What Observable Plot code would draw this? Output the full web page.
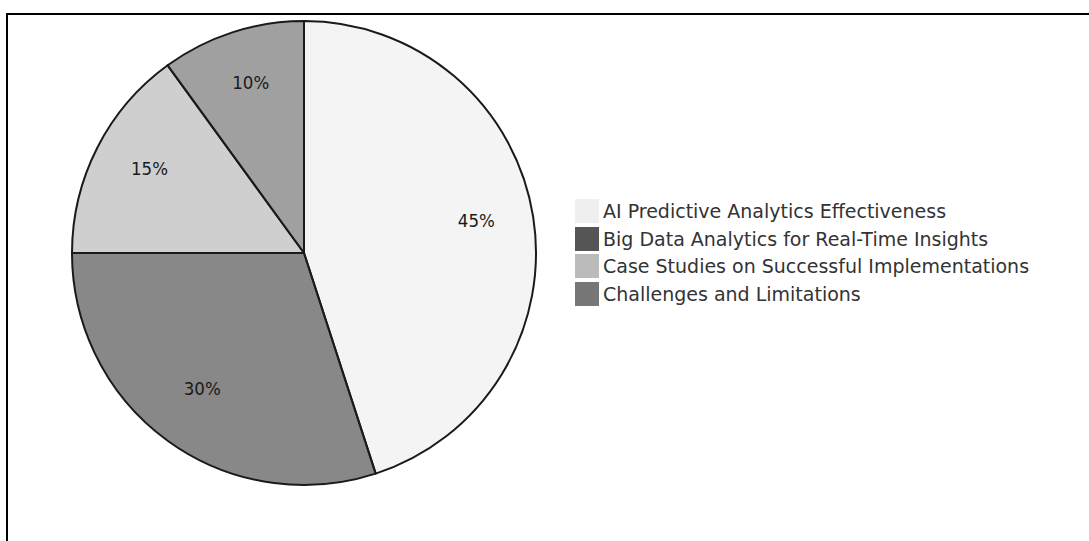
<!DOCTYPE html>
<html><head><meta charset="utf-8">
<script src="https://cdn.jsdelivr.net/npm/d3@7"></script>
<script src="https://cdn.jsdelivr.net/npm/@observablehq/plot@0.6"></script>
<style>
body{margin:0;background:#fff;}
#wrap{position:relative;width:1089px;height:541px;overflow:hidden;background:#fff;}
#frame{position:absolute;left:6px;top:13px;width:1200px;height:700px;border:2px solid #000;pointer-events:none;}
#chart{position:absolute;left:0;top:0;}
#legend{position:absolute;left:575px;top:197px;font-family:"DejaVu Sans",sans-serif;font-size:19px;color:#333;}
.row{display:flex;align-items:center;height:27.7px;}
.sw{width:24px;height:24px;margin-right:4px;flex:none;}
</style>
</head><body>
<div id="wrap"><div id="frame"></div><div id="chart"></div><div id="legend"></div></div>
<script>
const categories = [
  "AI Predictive Analytics Effectiveness",
  "Big Data Analytics for Real-Time Insights",
  "Case Studies on Successful Implementations",
  "Challenges and Limitations"
];
const values = [45, 30, 15, 10];
const labels = ["45%", "30%", "15%", "10%"];
const colors = ["#efefef", "#555555", "#bbbbbb", "#777777"];

const data = categories.map((c, i) => ({category: c, value: values[i], label: labels[i]}));
const color = Plot.scale({color: {type: "ordinal", domain: categories, range: colors}});
const arcs = d3.pie().sort(null).value(d => d.value)(data);
const labelFrac = 0.75;
const labelData = arcs.map(a => {
  const m = (a.startAngle + a.endAngle) / 2;
  return {label: a.data.label, x: labelFrac * Math.sin(m), y: labelFrac * Math.cos(m)};
});

const pieMark = (index, scales) => {
  const cx = scales.x(0), cy = scales.y(0), r = scales.x(1) - scales.x(0);
  const arc = d3.arc().innerRadius(0).outerRadius(r);
  const g = d3.create("svg:g").attr("transform", `translate(${cx},${cy})`);
  g.selectAll("path").data(arcs).join("path")
    .attr("d", arc)
    .attr("fill", d => color.apply(d.data.category))
    .attr("fill-opacity", 0.7)
    .attr("stroke", "#1a1a1a")
    .attr("stroke-width", 2)
    .attr("stroke-linejoin", "round");
  return g.node();
};

const chart = Plot.plot({
  width: 1089, height: 541,
  marginLeft: 72, marginRight: 553, marginTop: 21, marginBottom: 56,
  x: {domain: [-1, 1], axis: null},
  y: {domain: [-1, 1], axis: null},
  style: {background: "transparent", overflow: "visible"},
  marks: [
    pieMark,
    Plot.text(labelData, {x: "x", y: "y", text: "label", fontSize: 18.5, fill: "#1a1a1a", dy: -5,
      fontFamily: "DejaVu Sans Condensed, DejaVu Sans", fontStretch: "condensed"})
  ]
});
document.getElementById("chart").appendChild(chart);

const legend = d3.select("#legend");
categories.forEach((c, i) => {
  const row = legend.append("div").attr("class", "row");
  row.append("div").attr("class", "sw").style("background", color.apply(c));
  row.append("span").text(c);
});
</script>
</body></html>
